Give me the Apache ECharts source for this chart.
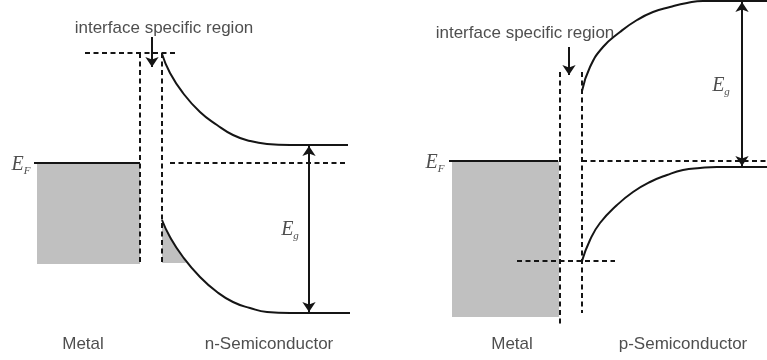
<!DOCTYPE html>
<html>
<head>
<meta charset="utf-8">
<script src="https://cdn.jsdelivr.net/npm/echarts@6/dist/echarts.min.js"></script>
<style>html,body{margin:0;padding:0;background:#fff}#c{width:767px;height:360px}</style>
</head>
<body>
<div id="c"></div>
<script>
// ---- Diagram data (diagram units: x across, energy axis downward) ----
// n-type panel
const nConduction = [[162,54],[170,73],[183,93],[200,112],[217,125],[233,135],[250,141],[267,144],[290,145],[348,145]];
const nValence = [[162,220],[170,237],[183,257],[200,277],[217,292],[233,302],[250,308],[267,312],[290,313],[350,313]];
const nValenceFilled = [[162,220],[170,237],[183,257],[186,263]];
const nFilledBottom = 263;
const nMetalFermi = [[34,163],[140,163]];
const nMetalFill = [[37,163],[140,163]];
const nMetalBottom = 264;
const nSemiFermi = [[170,163],[348,163]];
const nTopLevel = [[85,53],[178,53]];
const nInterfaceLeft = [[140,53],[140,265]];
const nInterfaceRight = [[162,53],[162,265]];
const nGapArrow = [[309,146],[309,312]];
const nPointer = [[152,37],[152,67]];

// p-type panel
const pConduction = [[582,91],[590,67],[603,47],[620,32],[637,20],[653,12],[670,7],[687,3],[703,1],[767,1]];
const pValence = [[582,261],[590,240],[600,223],[617,205],[633,192],[650,182],[667,175],[683,170],[700,168],[717,167],[767,167]];
const pMetalFermi = [[449,161],[558,161]];
const pMetalFill = [[452,161],[559,161]];
const pMetalBottom = 317;
const pSemiFermi = [[582,161],[767,161]];
const pBottomLevel = [[517,261],[615,261]];
const pInterfaceLeft = [[560,72],[560,325]];
const pInterfaceRight = [[582,72],[582,313]];
const pGapArrow = [[742,2],[742,166]];
const pPointer = [[569,47],[569,75]];

// Text labels
const plainLabels = [
  {name:'interface specific region', value:[164,28]},
  {name:'interface specific region', value:[525,33]},
  {name:'Metal', value:[83,344]},
  {name:'n-Semiconductor', value:[269,344]},
  {name:'Metal', value:[512,344]},
  {name:'p-Semiconductor', value:[683,344]}
];
const symbolLabels = [
  {name:'E|F', value:[21,165]},
  {name:'E|F', value:[435,163]},
  {name:'E|g', value:[290,230]},
  {name:'E|g', value:[721,86]}
];

const ink = '#151515';
const grey = '#c0c0c0';

function solid(data, smooth) {
  return {type:'line', data:data, symbol:'none', smooth: smooth ? 0.5 : false,
    lineStyle:{color:ink, width:2}, silent:true, z:5};
}
function dashed(data) {
  return {type:'line', data:data, symbol:'none',
    lineStyle:{color:ink, width:2, type:[5,3.5]}, silent:true, z:4};
}
function fill(data, origin, smooth) {
  return {type:'line', data:data, symbol:'none', smooth: smooth ? 0.5 : false,
    lineStyle:{width:0, opacity:0}, areaStyle:{color:grey, opacity:1, origin:origin}, silent:true, z:1};
}
function arrows(coords, both) {
  return {type:'lines', coordinateSystem:'cartesian2d', polyline:false,
    data:[{coords:coords}], symbol: both ? ['arrow','arrow'] : ['none','arrow'], symbolSize:10,
    lineStyle:{color:ink, width:2, opacity:1, curveness:0}, silent:true, z:6};
}

const chart = echarts.init(document.getElementById('c'), null, {renderer:'canvas'});
chart.setOption({
  animation:false,
  backgroundColor:'#ffffff',
  grid:{left:0, right:0, top:0, bottom:0},
  xAxis:{type:'value', min:0, max:767, show:false},
  yAxis:{type:'value', min:0, max:360, inverse:true, show:false},
  series:[
    fill(nMetalFill, nMetalBottom),
    fill(pMetalFill, pMetalBottom),
    fill(nValenceFilled, nFilledBottom, true),
    solid(nConduction, true),
    solid(nValence, true),
    solid(pConduction, true),
    solid(pValence, true),
    solid(nMetalFermi),
    solid(pMetalFermi),
    dashed(nSemiFermi),
    dashed(pSemiFermi),
    dashed(nTopLevel),
    dashed(pBottomLevel),
    dashed(nInterfaceLeft),
    dashed(nInterfaceRight),
    dashed(pInterfaceLeft),
    dashed(pInterfaceRight),
    arrows(nGapArrow, true),
    arrows(pGapArrow, true),
    arrows(nPointer, false),
    arrows(pPointer, false),
    {type:'scatter', data:plainLabels, symbolSize:0, silent:true, z:10,
      label:{show:true, position:'inside', formatter:'{b}', color:'#222',
        fontFamily:'Liberation Sans', fontSize:17}},
    {type:'scatter', data:symbolLabels, symbolSize:0, silent:true, z:10,
      label:{show:true, position:'inside', color:'#222',
        formatter:function(p){const s=p.name.split('|'); return '{e|'+s[0]+'}{s|'+s[1]+'}';},
        rich:{
          e:{fontFamily:'Liberation Serif', fontStyle:'italic', fontSize:20, lineHeight:24, color:'#222'},
          s:{fontFamily:'Liberation Serif', fontStyle:'italic', fontSize:11, lineHeight:24, verticalAlign:'bottom', color:'#222'}
        }}}
  ]
});
</script>
</body>
</html>
